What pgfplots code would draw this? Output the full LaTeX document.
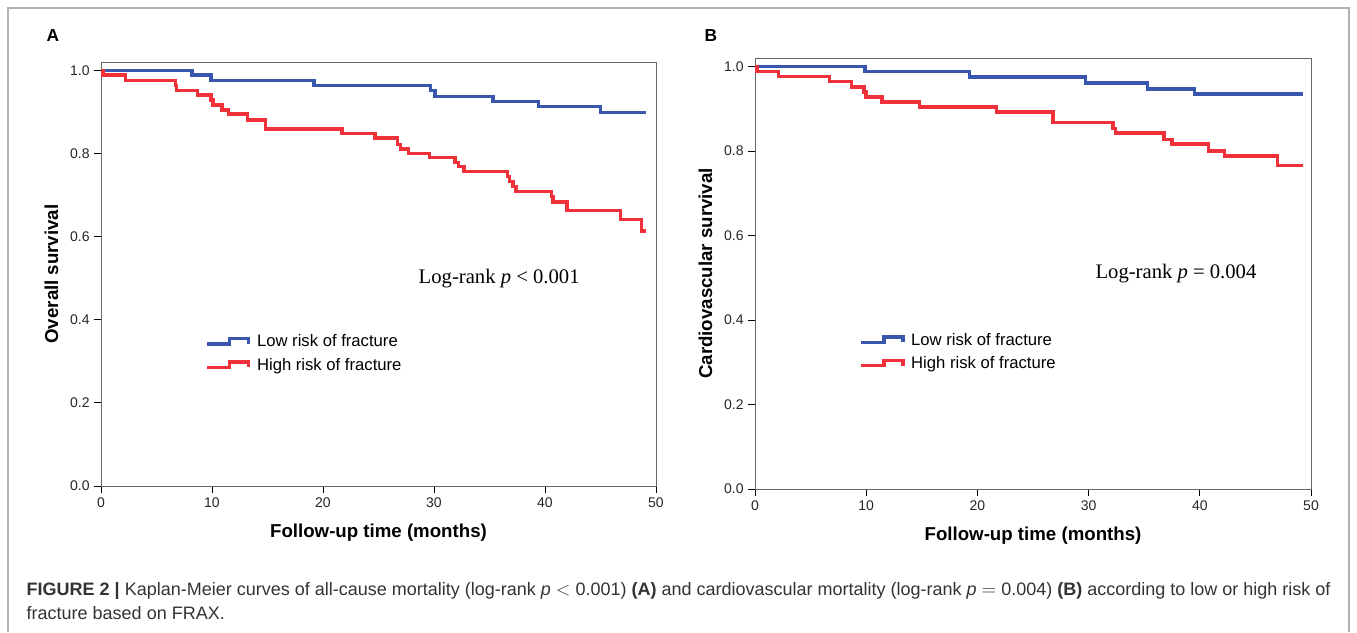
\documentclass[border=0pt]{standalone}
\usepackage{pgfplots}
\pgfplotsset{compat=1.18}
\usepackage{fontspec}
\setmainfont{Liberation Sans}
\newfontfamily\serif{Liberation Serif}
\definecolor{kmblue}{HTML}{3A57B0}
\definecolor{kmred}{HTML}{F0313A}
\pgfplotsset{
  km/.style={
    scale only axis, xmin=0, xmax=50, ymin=0, ymax=1.02,
    axis line style={gray!80!black, line width=0.6pt},
    xtick={0,10,20,30,40,50}, ytick={0,0.2,0.4,0.6,0.8,1.0},
    yticklabel style={/pgf/number format/.cd, fixed, fixed zerofill, precision=1},
    tick align=outside, xtick pos=bottom, ytick pos=left,
    major tick length=5pt, tick style={black, line width=0.6pt},
    /pgf/number format/assume math mode=true,
    ticklabel style={font=\fontsize{10.5}{12}\selectfont, text=black!85},
    xlabel style={font=\fontsize{14}{16}\selectfont\bfseries, yshift=-6pt},
    ylabel style={font=\fontsize{14}{16}\selectfont\bfseries, yshift=2pt},
    xlabel={Follow-up time (months)},
    legend cell align=left,
    legend style={draw=none, fill=none, font=\fontsize{12.5}{14}\selectfont, row sep=3pt, nodes={inner xsep=5pt}},
    legend image code/.code={\draw[#1, line width=2.6pt] (0cm,-0.06cm) -- (0.6cm,-0.06cm) -- (0.6cm,0.08cm) -- (1.1cm,0.08cm) -- (1.1cm,-0.06cm);},
  }
}
\begin{document}
\begin{tikzpicture}
\begin{scope}[x=0.75pt,y=0.75pt]
\path (0,0) rectangle (1357,632);
\draw[gray!60, line width=0.8pt] (8,0) -- (8,624) -- (1349,624) -- (1349,0);
\node[anchor=base west, font=\fontsize{13}{15}\selectfont\bfseries] at (42,590) {A};
\node[anchor=base west, font=\fontsize{13}{15}\selectfont\bfseries] at (700,590) {B};
\node[anchor=base west, font=\fontsize{13.5}{15}\selectfont, text=black!80] at (22,37) {\textbf{FIGURE 2 |} Kaplan-Meier curves of all-cause mortality (log-rank \textit{p} $<$ 0.001) \textbf{(A)} and cardiovascular mortality (log-rank \textit{p} $=$ 0.004) \textbf{(B)} according to low or high risk of};
\node[anchor=base west, font=\fontsize{13.5}{15}\selectfont, text=black!80] at (22,13) {fracture based on FRAX.};
\end{scope}
\begin{axis}[km, at={(75.75pt,109.5pt)}, anchor=south west, width=416.25pt, height=318pt,
  ylabel={Overall survival},
  legend style={at={(0.18,0.37)}, anchor=north west}]
\addplot[const plot, kmblue, line width=2.6pt] coordinates {(0,1.0)(8.2,0.989)(9.9,0.976)(19.2,0.963)(29.7,0.951)(30.1,0.937)(35.3,0.925)(39.4,0.913)(45.0,0.898)(49.1,0.898)};
\addplot[const plot, kmred, line width=2.6pt] coordinates {(0,1.0)(0.2,0.989)(2.2,0.975)(6.7,0.963)(6.8,0.951)(8.7,0.941)(9.9,0.929)(10.1,0.917)(10.9,0.905)(11.5,0.895)(13.2,0.881)(14.8,0.859)(21.7,0.848)(24.7,0.837)(26.7,0.822)(27.0,0.811)(27.7,0.8)(29.6,0.790)(31.9,0.778)(32.2,0.768)(32.7,0.756)(36.6,0.744)(36.8,0.733)(37.1,0.721)(37.4,0.709)(40.6,0.697)(40.7,0.683)(42.0,0.663)(46.8,0.641)(48.7,0.613)(49.1,0.613)};
\legend{Low risk of fracture, High risk of fracture}
\node[anchor=west, font=\serif\fontsize{15.5}{18}\selectfont] at (axis cs:28.2,0.5) {Log-rank \textit{p} < 0.001};
\end{axis}
\begin{axis}[km, at={(566.25pt,107.25pt)}, anchor=south west, width=417pt, height=323.25pt,
  ylabel={Cardiovascular survival},
  legend style={at={(0.18,0.375)}, anchor=north west}]
\addplot[const plot, kmblue, line width=2.6pt] coordinates {(0,1.0)(9.9,0.988)(19.3,0.975)(29.7,0.961)(35.3,0.947)(39.5,0.935)(49.3,0.935)};
\addplot[const plot, kmred, line width=2.6pt] coordinates {(0,1.0)(0.2,0.988)(2.1,0.976)(6.7,0.964)(8.7,0.951)(9.8,0.939)(10.0,0.928)(11.4,0.916)(14.8,0.904)(21.7,0.892)(26.8,0.867)(32.2,0.853)(32.4,0.842)(36.8,0.827)(37.5,0.816)(40.8,0.8)(42.2,0.788)(47.0,0.765)(49.3,0.765)};
\legend{Low risk of fracture, High risk of fracture}
\node[anchor=west, font=\serif\fontsize{15.5}{18}\selectfont] at (axis cs:30.2,0.51) {Log-rank \textit{p} = 0.004};
\end{axis}
\end{tikzpicture}
\end{document}
